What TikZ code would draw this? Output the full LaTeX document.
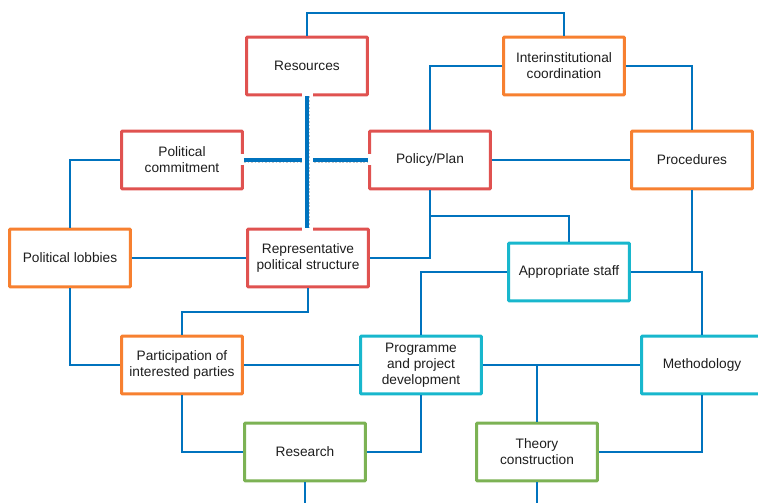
\documentclass[tikz,border=0pt]{standalone}
\usepackage{fontspec}
\setmainfont{Liberation Sans}
\usepackage{tikz}
\usetikzlibrary{calc}
\usepackage{xcolor}
\definecolor{myblue}{RGB}{0,115,190}
\definecolor{myred}{RGB}{224,82,80}
\definecolor{myorange}{RGB}{247,128,48}
\definecolor{myteal}{RGB}{24,183,205}
\definecolor{mygreen}{RGB}{124,178,84}
\definecolor{mytext}{RGB}{30,30,30}

\begin{document}
\begin{tikzpicture}[x=0.02cm, y=-0.02cm,
  block/.style={draw, rectangle, fill=white, line width=0.06cm, rounded corners=0.6pt,
    minimum width=2.42cm, minimum height=1.16cm, align=center, text=mytext,
    font=\fontsize{7.8}{9.2}\selectfont},
  link/.style={myblue, line width=0.9pt},
  halo/.style={white, line width=0.22cm, shorten <=-0.1cm, shorten >=-0.1cm},
  bar/.style={myblue, line width=2.2pt},
  barshade/.style={gray!45, densely dotted, line width=1pt}]
  \useasboundingbox (0,0) rectangle (758,503);
  \clip (0,0) rectangle (758,503);

  % Boxes
  \node[block, draw=myred] (res) at (307,66) {Resources};
  \node[block, draw=myorange] (inter) at (564,66) {Interinstitutional\\ coordination};
  \node[block, draw=myred] (comm) at (182,160) {Political\\ commitment};
  \node[block, draw=myred] (pol) at (430,160) {Policy/Plan};
  \node[block, draw=myorange] (proc) at (692,160) {Procedures};
  \node[block, draw=myorange] (lob) at (70,258) {Political lobbies};
  \node[block, draw=myred] (rep) at (308,258) {Representative\\ political structure};
  \node[block, draw=myteal] (staff) at (569,272) {Appropriate staff};
  \node[block, draw=myorange] (part) at (182,365) {Participation of\\ interested parties};
  \node[block, draw=myteal] (prog) at (421,365) {Programme\\ and project\\ development};
  \node[block, draw=myteal] (meth) at (702,365) {Methodology};
  \node[block, draw=mygreen] (rsch) at (305,452) {Research};
  \node[block, draw=mygreen] (theo) at (537,452) {Theory\\ construction};

  % Connectors
  \draw[link] (res.north) -- (res.north |- 0,13) -| (inter.north);
  \draw[link] (inter.west) -| (pol.north);
  \draw[link] (inter.east) -| (proc.north);
  \draw[link] (pol.east) -- (proc.west);
  \draw[link] (comm.west) -| (lob.north);
  \draw[link] (pol.south) -- (pol.south |- 0,216) -| (staff.north);
  \draw[link] (pol.south) |- (rep.east);
  \draw[link] (lob.east) -- (rep.west);
  \draw[link] (rep.south) -- (rep.south |- 0,312) -| (part.north);
  \draw[link] (lob.south) |- (part.west);
  \draw[link] (part.east) -- (prog.west);
  \draw[link] (part.south) |- (rsch.west);
  \draw[link] (rsch.east) -| (prog.south);
  \draw[link] (staff.west) -| (prog.north);
  \draw[link] (proc.south) |- (staff.east);
  \draw[link] (staff.east) -| (meth.north);
  \draw[link] (prog.east) -- (meth.west);
  \coordinate (join) at (theo.north |- prog.east);
  \draw[link] (join) -- (theo.north);
  \draw[link] (theo.east) -| (meth.south);

  % Loose ends at the bottom
  \coordinate (rsch end) at (rsch.south |- 0,510);
  \coordinate (theo end) at (theo.south |- 0,510);
  \draw[link] (rsch.south) -- (rsch end);
  \draw[link] (theo.south) -- (theo end);

  % Cross of thick bars
  \draw[halo] (comm.east) -- (pol.west);
  \draw[barshade] ([yshift=-0.05cm]comm.east) -- ([yshift=-0.05cm]pol.west);
  \draw[bar] (comm.east) -- (pol.west);
  \coordinate (rep top) at (res.south |- rep.north);
  \draw[halo] (res.south) -- (rep top);
  \draw[barshade] ([xshift=0.04cm]res.south) -- ([xshift=0.04cm]rep top);
  \draw[bar] (res.south) -- (rep top);
\end{tikzpicture}
\end{document}
